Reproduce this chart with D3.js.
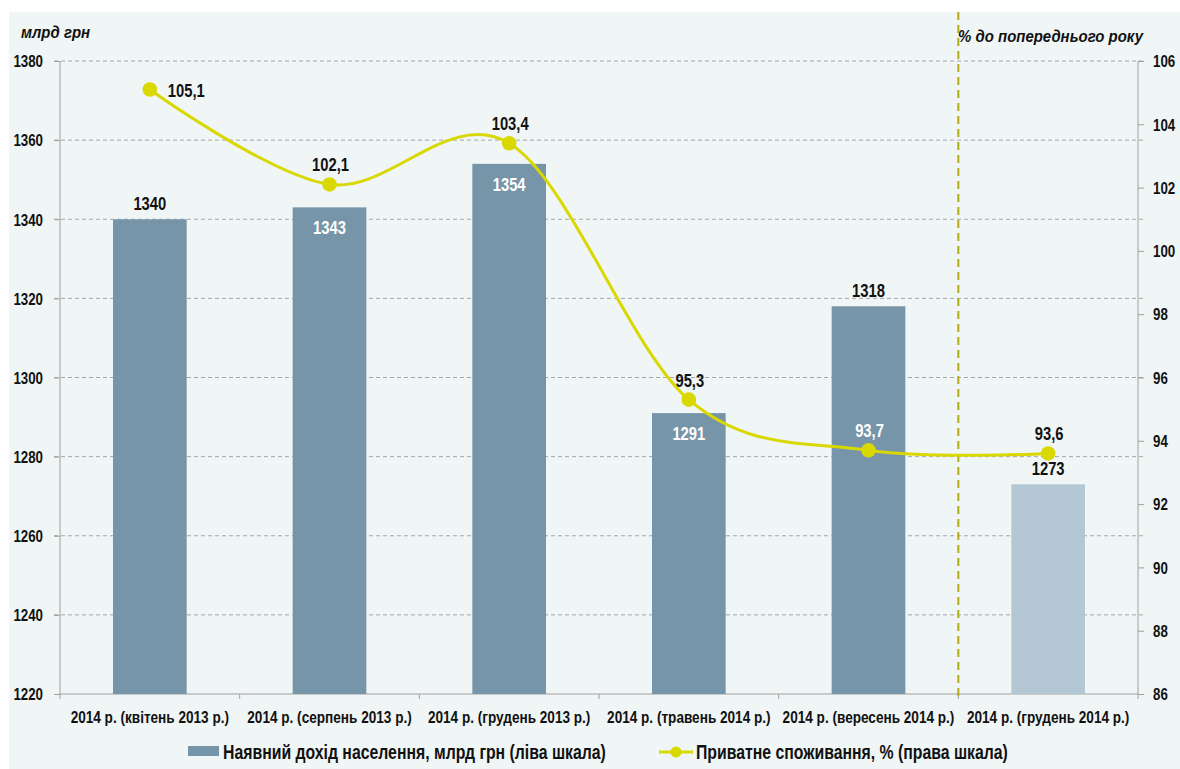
<!DOCTYPE html>
<html><head><meta charset="utf-8">
<script src="https://cdn.jsdelivr.net/npm/d3@7"></script>
<style>
html,body{margin:0;padding:0;background:#fff;}
svg{display:block;}
svg text{font-family:"Liberation Sans",Arial,sans-serif;}
</style></head>
<body><svg id="c" width="1180" height="769"></svg>
<script>
const categories = ["2014 р. (квітень 2013 р.)","2014 р. (серпень 2013 р.)","2014 р. (грудень 2013 р.)","2014 р. (травень 2014 р.)","2014 р. (вересень 2014 р.)","2014 р. (грудень 2014 р.)"];
const incomeValues = [1340,1343,1354,1291,1318,1273];
const consumptionValues = [105.1,102.1,103.4,95.3,93.7,93.6];
const leftTicks = [1220,1240,1260,1280,1300,1320,1340,1360,1380];
const rightTicks = [86,88,90,92,94,96,98,100,102,104,106];
const incomeLabelPos = ["above","inside","inside","inside","above","above"];
const consLabelPos = ["right","above","above","above","above","above"];
const consLabelWhite = [false,false,false,false,true,false];

const FONT='"Liberation Sans",Arial,sans-serif';
function condense(sel,k){
  sel.each(function(){
    const L=this.getComputedTextLength();
    this.setAttribute("textLength",(L*k).toFixed(2));
    this.setAttribute("lengthAdjust","spacingAndGlyphs");
  });
}

const svg = d3.select("#c");
const W=1180,H=769;
svg.append("rect").attr("x",9).attr("y",12).attr("width",W-9).attr("height",H-12).attr("fill","#f0f5f5");

const m={l:60,r:1138,t:61,b:694};
const x=d3.scaleBand().domain(categories).range([m.l,m.r]).paddingInner(0).paddingOuter(0);
const yL=d3.scaleLinear().domain([1220,1380]).range([m.b,m.t]);
const yR=d3.scaleLinear().domain([86,106]).range([m.b,m.t]);

// gridlines
svg.append("g").selectAll("line").data(leftTicks.slice(1)).join("line")
 .attr("x1",54).attr("x2",1143).attr("y1",d=>yL(d)).attr("y2",d=>yL(d))
 .attr("stroke","#a6a6a6").attr("stroke-dasharray","4,3").attr("stroke-width",1);

// axes lines
const axisCol="#a0a0a0";
svg.append("line").attr("x1",m.l).attr("x2",m.l).attr("y1",m.t).attr("y2",m.b).attr("stroke",axisCol);
svg.append("line").attr("x1",m.r).attr("x2",m.r).attr("y1",m.t).attr("y2",m.b).attr("stroke",axisCol);
svg.append("line").attr("x1",m.l).attr("x2",m.r).attr("y1",m.b).attr("y2",m.b).attr("stroke",axisCol);

// left ticks
const gl=svg.append("g").attr("transform",`translate(${m.l},0)`).call(d3.axisLeft(yL).tickValues(leftTicks).tickSize(6).tickPadding(11).tickFormat(d3.format("d")));
gl.select(".domain").remove();
gl.selectAll(".tick line").attr("stroke",axisCol);
gl.selectAll(".tick text").attr("font-size",16).attr("font-weight","bold").attr("fill","#111").attr("font-family",FONT).attr("dy","0.36em");
condense(gl.selectAll(".tick text"),0.83);
// right ticks
const gr=svg.append("g").attr("transform",`translate(${m.r},0)`).call(d3.axisRight(yR).tickValues(rightTicks).tickSize(6).tickPadding(9));
gr.select(".domain").remove();
gr.selectAll(".tick line").attr("stroke",axisCol);
gr.selectAll(".tick text").attr("font-size",16).attr("font-weight","bold").attr("fill","#111").attr("font-family",FONT).attr("dy","0.36em");
condense(gr.selectAll(".tick text"),0.83);
// bottom axis
const gb=svg.append("g").attr("transform",`translate(0,${m.b})`).call(d3.axisBottom(x).tickSize(0).tickPadding(17));
gb.select(".domain").remove();
gb.selectAll(".tick text").attr("font-size",17).attr("font-weight","bold").attr("fill","#111").attr("font-family",FONT)
  .attr("transform","scale(0.8,1)");
svg.append("g").selectAll("line").data(categories.map((c,i)=>i).concat([categories.length])).join("line")
 .attr("x1",i=>m.l+i*x.bandwidth()).attr("x2",i=>m.l+i*x.bandwidth()).attr("y1",m.b).attr("y2",m.b+5).attr("stroke",axisCol);

// bars
const bw=x.bandwidth()*0.41;
svg.append("g").selectAll("rect").data(incomeValues).join("rect")
 .attr("x",(d,i)=>x(categories[i])+x.bandwidth()/2-bw/2).attr("width",bw)
 .attr("y",d=>yL(d)).attr("height",d=>m.b-yL(d))
 .attr("fill",(d,i)=>i===5?"#b4c7d4":"#7695a9");

// divider
svg.append("line").attr("x1",m.l+5*x.bandwidth()).attr("x2",m.l+5*x.bandwidth()).attr("y1",12).attr("y2",m.b+4)
 .attr("stroke","#b2ab1a").attr("stroke-width",2).attr("stroke-dasharray","8,5");

// bar labels
const bl=svg.append("g").selectAll("text").data(incomeValues).join("text")
 .attr("x",(d,i)=>x(categories[i])+x.bandwidth()/2)
 .attr("y",(d,i)=>incomeLabelPos[i]==="above"?yL(d)-9:yL(d)+27)
 .attr("text-anchor","middle").attr("font-size",18).attr("font-weight","bold")
 .attr("fill",(d,i)=>incomeLabelPos[i]==="above"?"#111":"#fff").text(d=>d);
condense(bl,0.82);

// line
const cx=(i)=>x(categories[i])+x.bandwidth()/2;
const line=d3.line().x((d,i)=>cx(i)).y(d=>yR(d)).curve(d3.curveCardinal.tension(0));
svg.append("path").datum(consumptionValues).attr("d",line).attr("fill","none").attr("stroke","#d9d800").attr("stroke-width",3);
svg.append("g").selectAll("circle").data(consumptionValues).join("circle")
 .attr("cx",(d,i)=>cx(i)).attr("cy",d=>yR(d)).attr("r",7.3).attr("fill","#d9d800");
const cl=svg.append("g").selectAll("text").data(consumptionValues).join("text")
 .attr("x",(d,i)=>consLabelPos[i]==="right"?cx(i)+18:cx(i)+1)
 .attr("y",(d,i)=>consLabelPos[i]==="right"?yR(d)+8:yR(d)-13)
 .attr("text-anchor",(d,i)=>consLabelPos[i]==="right"?"start":"middle")
 .attr("font-size",18).attr("font-weight","bold")
 .attr("fill",(d,i)=>consLabelWhite[i]?"#fff":"#111")
 .text(d=>d3.format(".1f")(d).replace(".",","));
condense(cl,0.82);

// axis titles
const t1=svg.append("text").attr("x",21).attr("y",38).attr("font-size",17).attr("font-weight","bold").attr("font-style","italic").attr("fill","#111").text("млрд грн");
condense(t1,0.88);
const t2=svg.append("text").attr("x",958).attr("y",42).attr("font-size",17).attr("font-weight","bold").attr("font-style","italic").attr("fill","#111").text("% до попереднього року");
condense(t2,0.88);

// legend
const ly=751;
svg.append("rect").attr("x",188).attr("y",ly-5).attr("width",31).attr("height",10).attr("fill","#7695a9");
const lt1=svg.append("text").attr("x",223).attr("y",ly+8).attr("font-size",20).attr("font-weight","bold").attr("fill","#111").text("Наявний дохід населення, млрд грн (ліва шкала)");
condense(lt1,0.79);
svg.append("line").attr("x1",659).attr("x2",693).attr("y1",ly+1).attr("y2",ly+1).attr("stroke","#d9d800").attr("stroke-width",3);
svg.append("circle").attr("cx",676).attr("cy",ly+1).attr("r",5.5).attr("fill","#d9d800");
const lt2=svg.append("text").attr("x",696).attr("y",ly+8).attr("font-size",20).attr("font-weight","bold").attr("fill","#111").text("Приватне споживання, % (права шкала)");
condense(lt2,0.79);
</script></body></html>
